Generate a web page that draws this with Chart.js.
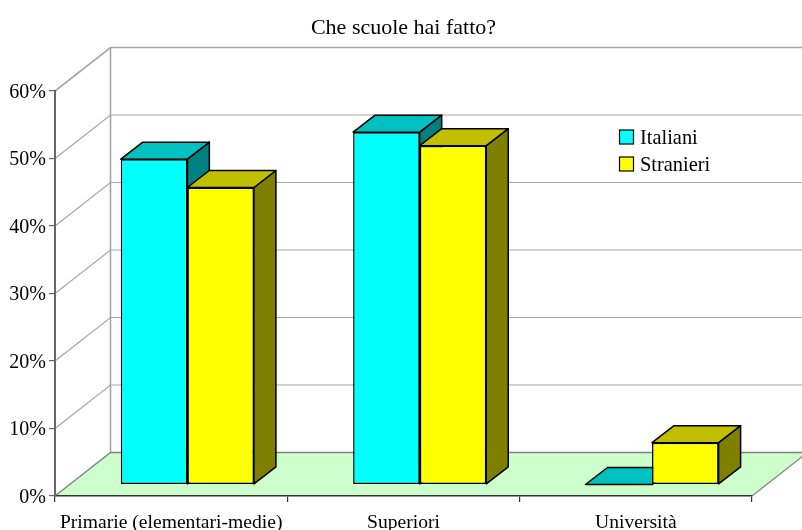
<!DOCTYPE html>
<html>
<head>
<meta charset="utf-8">
<script src="https://cdn.jsdelivr.net/npm/chart.js@4"></script>
<style>
    html, body { margin: 0; padding: 0; background: #fff; }
    #wrap { position: relative; width: 802px; height: 530px; }
</style>
</head>
<body>
<div id="wrap"><canvas id="chart"></canvas></div>
<script>
const categories = ['Primarie (elementari-medie)', 'Superiori', 'Università'];
const italiani = [48.2, 52.2, 0];
const stranieri = [44, 50.2, 6.2];
const tickStep = 10;
const tickMax = 60;

const fontName = '"Liberation Serif", "Times New Roman", serif';
const wallDepth = { x: 55.5, y: -43.5 };   // back wall against the front axes
const barShift = { x: 16.2, y: -11.5 };    // bars stand in the middle of the floor
const barDepth = { x: 22, y: -17 };

const faces = [
    { front: '#00ffff', top: '#00c0c0', side: '#008080' },
    { front: '#ffff00', top: '#c0c000', side: '#808000' }
];

function poly(ctx, points, fill, stroke, width) {
    ctx.beginPath();
    points.forEach((p, i) => i ? ctx.lineTo(p[0], p[1]) : ctx.moveTo(p[0], p[1]));
    ctx.closePath();
    if (fill) {
        ctx.fillStyle = fill;
        ctx.fill();
    }
    if (stroke) {
        ctx.strokeStyle = stroke;
        ctx.lineWidth = width;
        ctx.stroke();
    }
}

function line(ctx, points, color, width) {
    ctx.beginPath();
    points.forEach((p, i) => i ? ctx.lineTo(p[0], p[1]) : ctx.moveTo(p[0], p[1]));
    ctx.strokeStyle = color;
    ctx.lineWidth = width;
    ctx.stroke();
}

// floor, back wall and the gridlines that fold round the left wall
const walls = {
    id: 'walls',
    beforeDraw(chart) {
        const ctx = chart.ctx;
        const a = chart.chartArea;
        const y = chart.scales.y;
        const dx = wallDepth.x, dy = wallDepth.y;
        ctx.save();
        poly(ctx, [[a.left, a.bottom], [a.left + dx, a.bottom + dy], [a.right + dx, a.bottom + dy], [a.right, a.bottom]], '#ccffcc');
        y.ticks.forEach(t => {
            const py = y.getPixelForValue(t.value);
            if (t.value === 0) {
                return;
            }
            const w = t.value === tickMax ? 1.6 : 1.2;
            line(ctx, [[a.left, py], [a.left + dx, py + dy], [a.right + dx, py + dy]], '#a6a6a6', w);
        });
        line(ctx, [[a.left + dx, a.top + dy], [a.left + dx, a.bottom + dy]], '#a6a6a6', 1.6);
        line(ctx, [[a.left, a.bottom], [a.left + dx, a.bottom + dy], [a.right + dx, a.bottom + dy]], '#808080', 1.4);
        line(ctx, [[a.right, a.bottom], [a.right + dx, a.bottom + dy]], '#808080', 1.2);
        ctx.restore();
    }
};

// top and side faces go under the front faces the library draws
const bars3d = {
    id: 'bars3d',
    beforeDatasetsDraw(chart) {
        const ctx = chart.ctx;
        ctx.save();
        ctx.translate(barShift.x, barShift.y);
        ctx.lineJoin = 'round';
        chart.data.datasets.forEach((ds, i) => {
            chart.getDatasetMeta(i).data.forEach(bar => {
                const p = bar.getProps(['x', 'y', 'base', 'width'], true);
                const l = p.x - p.width / 2, r = p.x + p.width / 2;
                const dx = barDepth.x, dy = barDepth.y;
                poly(ctx, [[r, p.y], [r + dx, p.y + dy], [r + dx, p.base + dy], [r, p.base]], faces[i].side, '#000', 1.5);
                poly(ctx, [[l, p.y], [l + dx, p.y + dy], [r + dx, p.y + dy], [r, p.y]], faces[i].top, '#000', 1.5);
            });
        });
    },
    afterDatasetsDraw(chart) {
        chart.ctx.restore();
    }
};

// legend sits inside the plot, over the back wall
const innerLegend = {
    id: 'innerLegend',
    afterDraw(chart) {
        const ctx = chart.ctx;
        ctx.save();
        ctx.font = '20.4px ' + fontName;
        ctx.textBaseline = 'middle';
        chart.data.datasets.forEach((ds, i) => {
            const top = 130 + i * 27;
            ctx.fillStyle = ds.backgroundColor;
            ctx.fillRect(619.5, top, 14, 14);
            ctx.strokeStyle = '#000';
            ctx.lineWidth = 1.2;
            ctx.strokeRect(619.5, top, 14, 14);
            ctx.fillStyle = '#000';
            ctx.fillText(ds.label, 640, top + 9);
        });
        ctx.restore();
    }
};

new Chart(document.getElementById('chart'), {
    type: 'bar',
    data: {
        labels: categories,
        datasets: [
            { label: 'Italiani', data: italiani, backgroundColor: faces[0].front, borderColor: '#000', borderWidth: 1.5, borderSkipped: false },
            { label: 'Stranieri', data: stranieri, backgroundColor: faces[1].front, borderColor: '#000', borderWidth: 1.5, borderSkipped: false }
        ]
    },
    plugins: [walls, bars3d, innerLegend],
    options: {
        responsive: true,
        maintainAspectRatio: false,
        animation: false,
        clip: false,
        categoryPercentage: 0.573,
        barPercentage: 1,
        layout: { padding: { left: 0, right: 50, top: 0, bottom: 0 } },
        plugins: {
            legend: { display: false },
            tooltip: { enabled: false },
            title: {
                display: true,
                text: 'Che scuole hai fatto?',
                fullSize: false,
                color: '#000',
                font: { family: fontName, size: 22, weight: 'normal' },
                padding: { top: 15, bottom: 49.6 }
            }
        },
        scales: {
            x: {
                afterFit(scale) { scale.height = 34; },
                grid: { drawOnChartArea: false, drawTicks: true, tickLength: 6, color: '#333', lineWidth: 1.2 },
                border: { color: '#333', width: 1.4 },
                ticks: { color: '#000', padding: 9, maxRotation: 0, font: { family: fontName, size: 19.6 } }
            },
            y: {
                min: 0,
                max: tickMax,
                afterFit(scale) { scale.width = 55; },
                grid: { drawOnChartArea: false, drawTicks: true, tickLength: 6, color: '#666', lineWidth: 1.2 },
                border: { color: '#666', width: 2 },
                ticks: {
                    stepSize: tickStep,
                    color: '#000',
                    padding: 3,
                    labelOffset: 1.5,
                    font: { family: fontName, size: 20 },
                    callback: v => v + '%'
                }
            }
        }
    }
});
</script>
</body>
</html>
